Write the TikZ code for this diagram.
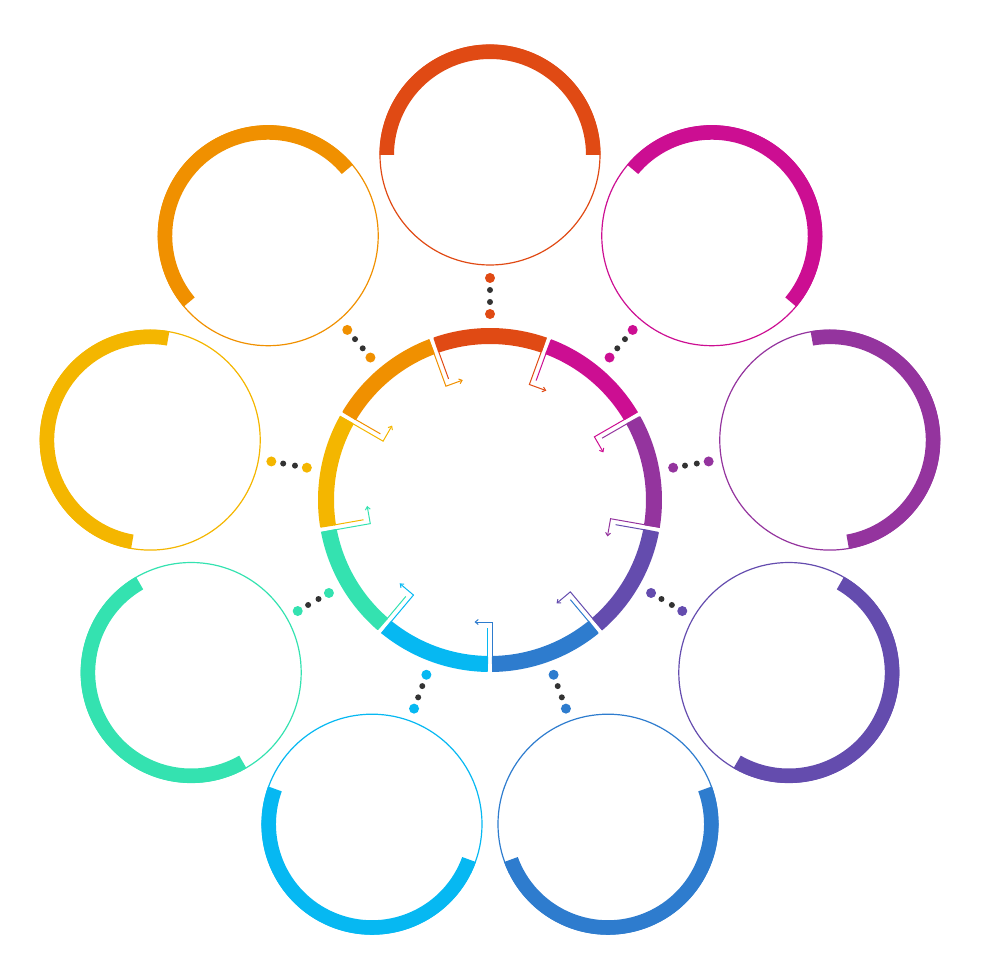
\documentclass[tikz,border=0pt]{standalone}
\usepackage{tikz}
\usetikzlibrary{positioning}
\usetikzlibrary{calc}
\usetikzlibrary{arrows.meta}

\definecolor{stageRed}{RGB}{224,74,20}
\definecolor{stageMagenta}{RGB}{204,14,146}
\definecolor{stagePurple}{RGB}{148,52,158}
\definecolor{stageViolet}{RGB}{100,76,174}
\definecolor{stageBlue}{RGB}{46,124,206}
\definecolor{stageCyan}{RGB}{6,184,242}
\definecolor{stageGreen}{RGB}{52,226,176}
\definecolor{stageYellow}{RGB}{244,182,0}
\definecolor{stageOrange}{RGB}{240,144,0}

\begin{document}
\begin{tikzpicture}
			[
				x = 1pt, y = 1pt,
				hub/.style = {circle, minimum size = 344pt, inner sep = 0pt, outer sep = 0pt},
				item/.style = {circle, minimum size = 220pt, inner sep = 0pt, outer sep = 0pt, line width = 1.2pt, draw = #1},
				bigdot/.style = {circle, minimum size = 10pt, inner sep = 0pt, fill = #1},
				smalldot/.style = {circle, minimum size = 6pt, inner sep = 0pt, fill = black!80},
				turn/.style = {line width = 1pt, draw = #1, -{Straight Barb[length = 3pt, width = 5pt]}},
				tick/.style = {line width = 1pt, draw = #1},
			]
			\useasboundingbox (-490,-480) rectangle (490,500);
			\node (hub) [hub] at (0,0) {};
			\foreach \a/\c [count = \i, evaluate = \a as \b using \a+180, evaluate = \a as \e using \a-20, evaluate = \a as \s using \a+20] in
				{90/stageRed, 50/stageMagenta, 10/stagePurple, -30/stageViolet, -70/stageBlue, -110/stageCyan, -150/stageGreen, 170/stageYellow, 130/stageOrange}
			{
				% outer circle with its thick half
				\node (item\i) [item = \c] at (\a:345) {};
				\fill [\c] ($(item\i)+(\a-90:110.5)$) arc [start angle = \a-90, end angle = \a+90, radius = 110.5pt]
					-- ($(item\i)+(\a+90:96)$) arc [start angle = \a+90, end angle = \a-90, radius = 96pt] -- cycle;
				% piece of the middle ring
				\filldraw [\c, line width = 2pt, line join = round] (\a-18.95:171) arc [start angle = \a-18.95, end angle = \a+18.95, radius = 171pt]
					-- (\a+18.95:157) arc [start angle = \a+18.95, end angle = \a-18.95, radius = 157pt] -- cycle;
				% dots between ring and circle
				\node (dot\i a) [bigdot = \c] at ($(hub.\a)!0.222!(item\i.\b)$) {};
				\node (dot\i b) [smalldot] at ($(hub.\a)!0.413!(item\i.\b)$) {};
				\node (dot\i c) [smalldot] at ($(hub.\a)!0.603!(item\i.\b)$) {};
				\node (dot\i d) [bigdot = \c] at ($(hub.\a)!0.794!(item\i.\b)$) {};
				% bent arrow at the clockwise end, short tick at the other end
				\coordinate (top\i) at ($(\e:172)+(\e+90:2.5)$);
				\coordinate (bend\i) at ($(\e:122)+(\e+90:2.5)$);
				\draw [turn = \c] (top\i) -- (bend\i) -- ++(\e-90:18);
				\coordinate (tickin\i) at ($(\s:158)+(\s-90:2.5)$);
				\coordinate (tickout\i) at ($(\s:128)+(\s-90:2.5)$);
				\draw [tick = \c] (tickin\i) -- (tickout\i);
			}
		\end{tikzpicture}
\end{document}
